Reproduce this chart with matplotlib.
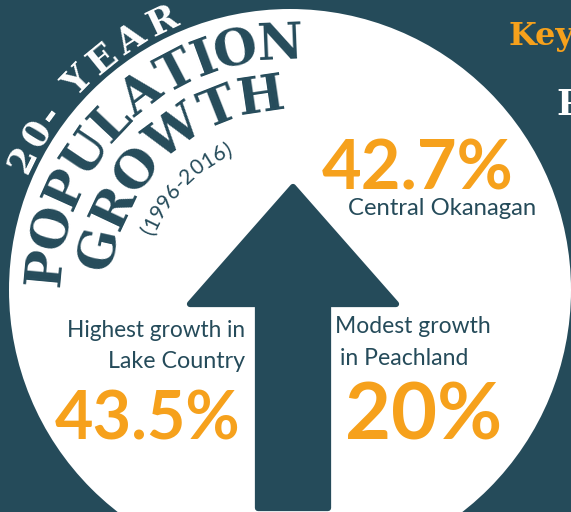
import numpy as np
import matplotlib.pyplot as plt
from matplotlib import patches
from matplotlib.textpath import TextPath
from matplotlib.font_manager import FontProperties

# цвета
teal = '#254b5a'
orange = '#f6a11c'

# данные: рост населения за 20 лет (1996-2016), %
regions = ['Central Okanagan', 'Lake Country', 'Peachland']
growth = [42.7, 43.5, 20]
title_top = '20- YEAR'
title_mid = 'POPULATION'
title_low = 'GROWTH'
period = '(1996-2016)'

W, H = 571, 512
cx, cy, R = 290, 290, 281   # белый круг (в пикселях)

fig = plt.figure(figsize=(W / 100, H / 100), dpi=100, facecolor=teal)
ax = fig.add_axes([0, 0, 1, 1])
ax.set_xlim(0, W)
ax.set_ylim(H, 0)
ax.axis('off')
renderer = fig.canvas.get_renderer()

ax.add_patch(patches.Circle((cx, cy), R, fc='white', ec='none', zorder=1))

# стрелка вверх (скруглённые углы за счёт толстой обводки)
arrow = [(293, 187), (396, 304), (328, 304), (328, 508),
         (258, 508), (258, 304), (190, 304)]
ax.add_patch(patches.Polygon(arrow, closed=True, fc=teal, ec=teal, lw=4.5,
                             joinstyle='round', zorder=2))


def arc_text(text, r_base, a0, a1, size, color, gap, family, weight='bold'):
    # буквы по дуге: a0, a1 - углы центров первой и последней буквы
    fp = FontProperties(family=family, weight=weight, size=size)
    k = 100 / 72
    widths = []
    for ch in text:
        if ch == ' ':
            widths.append(size * 0.25 * k)
        else:
            widths.append(TextPath((0, 0), ch, prop=fp).get_extents().width * k)
    steps = [(widths[i] + widths[i + 1]) / 2 + gap for i in range(len(text) - 1)]
    s = np.concatenate([[0], np.cumsum(steps)])
    angles = a0 + (a1 - a0) * s / s[-1]
    for ch, a in zip(text, angles):
        th = np.radians(a)
        ax.text(cx + r_base * np.cos(th), cy - r_base * np.sin(th), ch,
                rotation=a - 90, rotation_mode='anchor', ha='center',
                va='baseline', fontproperties=fp, color=color, zorder=3)


def put(x, y, s, width, ha, color, family, weight, size0=30):
    # горизонтальный текст, подогнанный по ширине
    t = ax.text(x, y, s, ha=ha, va='baseline', fontsize=size0, color=color,
                family=family, weight=weight, zorder=3)
    w = t.get_window_extent(renderer).width
    t.set_fontsize(size0 * width / w)
    return t


serif = 'DejaVu Serif'
sans = 'Lato'

arc_text(title_top, 287, 153.8, 115.4, 26, 'white', 6, serif)
arc_text(title_mid, 231, 174.7, 92.3, 36, teal, 3, serif)
arc_text(title_low, 180, 167.4, 98.5, 36, teal, 12, serif)
arc_text(period, 147, 157.2, 113.9, 15, teal, 1, sans, 'normal')

pct = ['{:g}%'.format(v) for v in growth]

# Central Okanagan
put(322, 190, pct[0], 191, 'left', orange, sans, 'bold')
put(348, 215, regions[0], 189, 'left', teal, sans, 'normal')

# Lake Country
put(245, 337, 'Highest growth in', 178, 'right', teal, sans, 'normal')
put(245, 368, regions[1], 137, 'right', teal, sans, 'normal')
put(55, 440, pct[1], 185, 'left', orange, sans, 'bold')

# Peachland
put(335, 333, 'Modest growth', 155, 'left', teal, sans, 'normal')
put(340, 365, 'in ' + regions[2], 128, 'left', teal, sans, 'normal')
put(345, 440, pct[2], 157, 'left', orange, sans, 'bold')

# обрезанные заголовки справа
ax.text(508, 45, 'Key', fontsize=23, color=orange, family=serif,
        weight='bold', va='baseline', ha='left', zorder=3)
ax.text(556, 115, 'P', fontsize=25, color='white', family=serif,
        weight='bold', va='baseline', ha='left', zorder=3)

fig.savefig('out.png', dpi=100, facecolor=teal)
